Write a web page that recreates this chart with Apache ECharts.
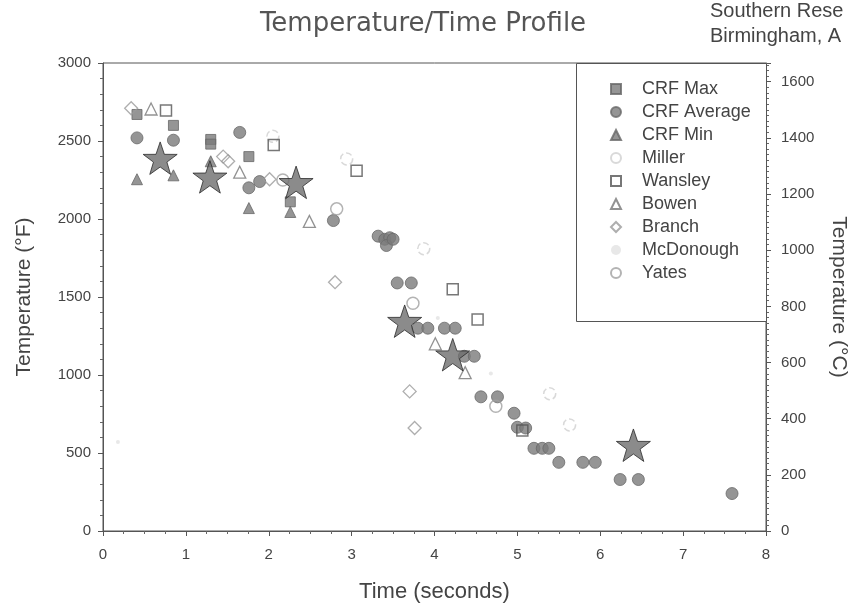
<!DOCTYPE html>
<html>
<head>
<meta charset="utf-8">
<script src="https://cdn.jsdelivr.net/npm/echarts@6/dist/echarts.min.js"></script>
<style>
html,body{margin:0;padding:0;background:#fff;}
#chart{width:857px;height:612px;}
</style>
</head>
<body>
<div id="chart"></div>
<script>
// ---- data (time in seconds, temperature in °F) ----
const crfMax = [[0.41,2670],[0.85,2600],[1.30,2510],[1.30,2480],[1.76,2400],[2.26,2110]];
const crfAverage = [[0.41,2520],[0.85,2505],[1.65,2555],[1.76,2200],[1.89,2240],[2.78,1990],
  [3.32,1890],[3.40,1870],[3.46,1880],[3.42,1830],[3.50,1870],[3.55,1590],[3.72,1590],
  [3.80,1300],[3.92,1300],[4.12,1300],[4.25,1300],[4.36,1120],[4.48,1120],[4.56,860],
  [4.76,860],[4.96,755],[5.00,665],[5.10,660],[5.20,530],[5.30,530],[5.38,530],[5.50,440],
  [5.79,440],[5.94,440],[6.24,330],[6.46,330],[7.59,240]];
const crfMin = [[0.41,2255],[0.85,2280],[1.30,2370],[1.76,2070],[2.26,2045]];
const miller = [[2.05,2530],[2.94,2385],[3.87,1810],[5.39,880],[5.63,680]];
const wansley = [[0.76,2695],[2.06,2475],[3.06,2310],[4.22,1550],[4.52,1355],[5.06,645]];
const bowen = [[0.58,2705],[1.65,2300],[2.49,1985],[4.01,1200],[4.37,1015]];
const branch = [[0.34,2710],[1.45,2400],[1.51,2370],[2.01,2255],[2.80,1595],[3.70,895],[3.76,660]];
const mcDonough = [[0.18,570],[4.04,1365],[4.68,1010]];
const yates = [[2.17,2250],[2.82,2065],[3.74,1460],[4.74,800]];
const stars = [[0.69,2390],[1.29,2270],[2.33,2235],[3.64,1345],[4.22,1130],[6.40,550]];
const legendNames = ['CRF Max','CRF Average','CRF Min','Miller','Wansley','Bowen','Branch','McDonough','Yates'];
const xTicks = {min:0,max:8,interval:1};
const yTicksF = {min:0,max:3000,interval:500};
const yTicksC = {min:0,max:3000/1.8,interval:200};

const FONT = 'Liberation Sans';
const STAR = 'path://M50,0 L61.8,35.1 L98.1,35.3 L69,57.1 L79.4,91.9 L50,71 L20.6,91.9 L31,57.1 L1.9,35.3 L38.2,35.1 Z';
const clear = 'rgba(255,255,255,0)';

const chart = echarts.init(document.getElementById('chart'), null, {renderer:'canvas'});

function sc(name, data, symbol, size, itemStyle, z){
  return {name:name, type:'scatter', data:data, symbol:symbol, symbolSize:size,
    itemStyle:itemStyle, z:z||2, emphasis:{disabled:true}, animation:false};
}

const axisCommon = {
  axisLine:{show:true,lineStyle:{color:'#555',width:1}},
  axisTick:{show:true,length:5,lineStyle:{color:'#555'}},
  splitLine:{show:false},
  axisLabel:{color:'#444',fontFamily:FONT,fontSize:15},
  nameTextStyle:{color:'#444',fontFamily:FONT,fontSize:21}
};

chart.setOption({
  animation:false,
  backgroundColor:'#fff',
  textStyle:{fontFamily:FONT},
  grid:{left:103,right:90,top:63,bottom:81,show:true,borderColor:'#555',borderWidth:1,backgroundColor:'#fff'},
  graphic:[
    {type:'text',x:423,y:24,z:10,style:{text:'Temperature/Time Profile',fontFamily:'DejaVu Sans',fontSize:26,fill:'#555',align:'center',verticalAlign:'middle'}},
    {type:'text',x:710,y:11,z:10,style:{text:'Southern Rese',fontFamily:FONT,fontSize:20,fill:'#444',align:'left',verticalAlign:'middle'}},
    {type:'text',x:710,y:36,z:10,style:{text:'Birmingham, A',fontFamily:FONT,fontSize:20,fill:'#444',align:'left',verticalAlign:'middle'}},
    {type:'rect',z:3,shape:{x:576.5,y:63.5,width:190,height:258},style:{fill:'#fff',stroke:'#555',lineWidth:1}}
  ],
  legend:{
    data:legendNames, orient:'vertical', left:605, top:75,
    itemWidth:10, itemHeight:10, itemGap:5, z:5,
    textStyle:{fontFamily:FONT,fontSize:18,color:'#444',lineHeight:16,padding:[0,0,0,16]},
    selectedMode:false
  },
  xAxis:Object.assign({}, axisCommon, {
    type:'value', min:xTicks.min, max:xTicks.max, interval:xTicks.interval,
    minorTick:{show:true,splitNumber:4,length:3,lineStyle:{color:'#666'}},
    axisLabel:Object.assign({}, axisCommon.axisLabel, {margin:16}),
    name:'Time (seconds)', nameLocation:'middle', nameGap:50,
    nameTextStyle:{color:'#444',fontFamily:FONT,fontSize:22}
  }),
  yAxis:[
    Object.assign({}, axisCommon, {
      type:'value', position:'left', min:yTicksF.min, max:yTicksF.max, interval:yTicksF.interval,
      minorTick:{show:true,splitNumber:5,length:3,lineStyle:{color:'#666'}},
      axisLabel:Object.assign({}, axisCommon.axisLabel, {margin:12, formatter:function(v){ return String(v); }}),
      name:'Temperature (°F)', nameLocation:'middle', nameGap:68
    }),
    Object.assign({}, axisCommon, {
      type:'value', position:'right', min:yTicksC.min, max:yTicksC.max, interval:yTicksC.interval,
      minorTick:{show:true,splitNumber:10,length:3,lineStyle:{color:'#666'}},
      axisLabel:Object.assign({}, axisCommon.axisLabel, {margin:15,
        formatter:function(v){ return (Math.abs(v/200 - Math.round(v/200))<1e-6) ? String(Math.round(v)) : ''; }}),
      name:'Temperature (°C)', nameLocation:'middle', nameGap:62, nameRotate:-90
    })
  ],
  series:[
    sc('CRF Max', crfMax, 'rect', 10, {color:'#7a7a7a',borderColor:'#676767',borderWidth:1}, 3),
    sc('CRF Average', crfAverage, 'circle', 12, {color:'#7a7a7a',borderColor:'#696969',borderWidth:1}, 3),
    sc('CRF Min', crfMin, 'triangle', 11, {color:'#7a7a7a',borderColor:'#676767',borderWidth:1}, 3),
    sc('Miller', miller, 'circle', 12, {color:clear,borderColor:'#cfcfcf',borderWidth:1.5,borderType:'dashed'}, 4),
    sc('Wansley', wansley, 'rect', 11, {color:clear,borderColor:'#555',borderWidth:1.5}, 4),
    sc('Bowen', bowen, 'triangle', 12, {color:clear,borderColor:'#777',borderWidth:1.3}, 4),
    sc('Branch', branch, 'diamond', 13, {color:clear,borderColor:'#9a9a9a',borderWidth:1.3}, 4),
    sc('McDonough', mcDonough, 'circle', 4, {color:'#e2e2e2',borderColor:'#e2e2e2',borderWidth:0}, 4),
    sc('Yates', yates, 'circle', 12, {color:clear,borderColor:'#a0a0a0',borderWidth:1.5}, 4),
    Object.assign(sc('', stars, STAR, 34, {color:'#6e6e6e',borderColor:'#2b2b2b',borderWidth:1}, 6), {symbolKeepAspect:true})
  ]
});
</script>
</body>
</html>
